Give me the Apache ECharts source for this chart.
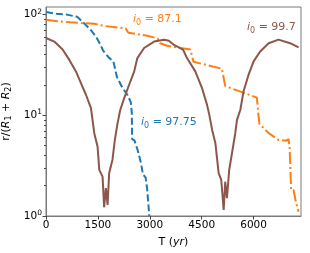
<!DOCTYPE html>
<html><head><meta charset="utf-8">
<script src="https://cdn.jsdelivr.net/npm/echarts@6/dist/echarts.min.js"></script>
<style>html,body{margin:0;padding:0;background:#fff}#c{width:310px;height:253px}</style>
</head><body><div id="c"></div>
<script>
// i0 = 97.75 (blue, dashed)
const blueT = [0, 300, 600, 900, 1100, 1300, 1450, 1550, 1650, 1800, 1950, 2050, 2200, 2350, 2450, 2480, 2490, 2560, 2650, 2750, 2800, 2880, 2920, 2960, 2985];
const blueR = [106, 102, 100, 95, 82, 70, 60, 52, 44, 38, 34, 24, 19, 16, 13.5, 10.5, 5.8, 5.6, 4.5, 3.3, 2.6, 2.4, 1.9, 1.3, 1.0];
// i0 = 87.1 (orange, dash-dot)
const orangeT = [0, 335, 700, 1010, 1395, 1450, 1700, 2300, 2380, 2900, 3225, 3300, 3500, 4175, 4260, 5085, 5180, 6095, 6140, 6170, 6435, 6720, 6950, 7010, 7040, 7085, 7155, 7220, 7300];
const orangeR = [89, 86, 84, 82.5, 81, 78, 77, 73, 66, 62, 58, 52, 49, 45, 34, 29, 19.5, 15, 10, 8.2, 6.65, 5.7, 5.6, 5.8, 4.9, 1.8, 1.8, 1.39, 1.1];
// i0 = 99.7 (brown, solid)
const brownT = [0, 240, 480, 670, 865, 1010, 1155, 1300, 1395, 1490, 1540, 1635, 1680, 1730, 1780, 1825, 1920, 1990, 2070, 2145, 2260, 2400, 2550, 2640, 2835, 3125, 3410, 3550, 3700, 3960, 4075, 4315, 4510, 4655, 4720, 4800, 4895, 4990, 5065, 5135, 5180, 5230, 5295, 5375, 5470, 5520, 5615, 5710, 5855, 6000, 6190, 6435, 6720, 7055, 7300];
const brownR = [58.6, 54, 45, 35.7, 27.3, 20.9, 16, 11.8, 6.65, 4.9, 2.87, 2.46, 1.22, 1.89, 1.29, 2.66, 3.6, 5.7, 8.4, 11.3, 14.8, 20, 27.3, 37, 46.6, 54, 56.4, 55, 50, 45, 37, 27.3, 18.6, 12.7, 10.1, 7.2, 5.3, 2.66, 2.28, 1.15, 2.19, 1.5, 2.87, 4.2, 6.65, 9, 11.3, 17.3, 25.3, 34.3, 43, 52, 56.4, 52, 47.3];

const xTicks = [0, 1500, 3000, 4500, 6000];
const yTicks = [1, 10, 100];
const yMinor = [2, 3, 4, 5, 6, 7, 8, 9, 20, 30, 40, 50, 60, 70, 80, 90];
const labels = [
  {text: '87.1', color: '#ff7f0e', left: 133, top: 14},
  {text: '99.7', color: '#8c564b', left: 247, top: 22},
  {text: '97.75', color: '#1f77b4', left: 141, top: 117}
];

const F = 'DejaVu Sans';
const pair = (t, r) => t.map((v, i) => [v, r[i]]);
const chart = echarts.init(document.getElementById('c'), null, {renderer: 'canvas'});

const rich = (c) => ({
  i: {fontFamily: F, fontSize: 11, fontStyle: 'italic', fill: c, color: c, lineHeight: 14},
  s: {fontFamily: F, fontSize: 8, fill: c, color: c, lineHeight: 8, verticalAlign: 'bottom'},
  n: {fontFamily: F, fontSize: 11, fill: c, color: c, lineHeight: 14}
});

chart.setOption({
  animation: false,
  grid: {left: 46, top: 7, right: 9, bottom: 37, show: true, borderColor: '#7a7a7a', borderWidth: 1,
         containLabel: false, outerBoundsMode: 'none'},
  xAxis: {
    type: 'value', min: 0, max: 7370,
    axisLine: {show: true, onZero: false, lineStyle: {color: '#7a7a7a', width: 1}},
    axisTick: {show: true, customValues: xTicks, length: 3.5, lineStyle: {color: '#444'}},
    axisLabel: {customValues: xTicks, formatter: v => String(v), fontFamily: F, fontSize: 10.5, color: '#000', margin: 4},
    splitLine: {show: false},
    name: '{n|T (}{i|yr}{n|)}', nameLocation: 'middle', nameGap: 19,
    nameTextStyle: {rich: rich('#000')}
  },
  yAxis: [{
    type: 'log', logBase: 10, min: 1, max: 119,
    axisLine: {show: true, lineStyle: {color: '#7a7a7a', width: 1}},
    axisTick: {show: true, customValues: yTicks, length: 3.5, lineStyle: {color: '#444'}},
    axisLabel: {
      customValues: yTicks, margin: 4,
      formatter: v => '{b|10}{p|' + Math.round(Math.log10(v)) + '}',
      rich: {
        b: {fontFamily: F, fontSize: 10.5, color: '#000', lineHeight: 14},
        p: {fontFamily: F, fontSize: 7.5, color: '#000', lineHeight: 8, verticalAlign: 'top'}
      }
    },
    splitLine: {show: false},
    name: '{n|r/(}{i|R}{s|1}{n| + }{i|R}{s|2}{n|)}', nameLocation: 'middle', nameGap: 27, nameRotate: 90,
    nameTextStyle: {rich: rich('#000')}
  }, {
    type: 'log', logBase: 10, min: 1, max: 119, position: 'left',
    axisLine: {show: false},
    axisTick: {show: true, customValues: yMinor, length: 2, lineStyle: {color: '#444'}},
    axisLabel: {show: false},
    splitLine: {show: false}
  }],
  series: [
    {type: 'line', data: pair(blueT, blueR), showSymbol: false, symbol: 'none',
     lineStyle: {color: '#1f77b4', width: 2, type: [7, 3]}},
    {type: 'line', data: pair(orangeT, orangeR), showSymbol: false, symbol: 'none',
     lineStyle: {color: '#ff7f0e', width: 2, type: [12, 3, 2, 3]}},
    {type: 'line', data: pair(brownT, brownR), showSymbol: false, symbol: 'none',
     lineStyle: {color: '#8c564b', width: 2}}
  ],
  graphic: labels.map(l => ({
    type: 'text', left: l.left, top: l.top, z: 100,
    style: {text: '{i|i}{s|0}{n| = ' + l.text + '}', rich: rich(l.color), fill: l.color}
  }))
});
</script></body></html>
